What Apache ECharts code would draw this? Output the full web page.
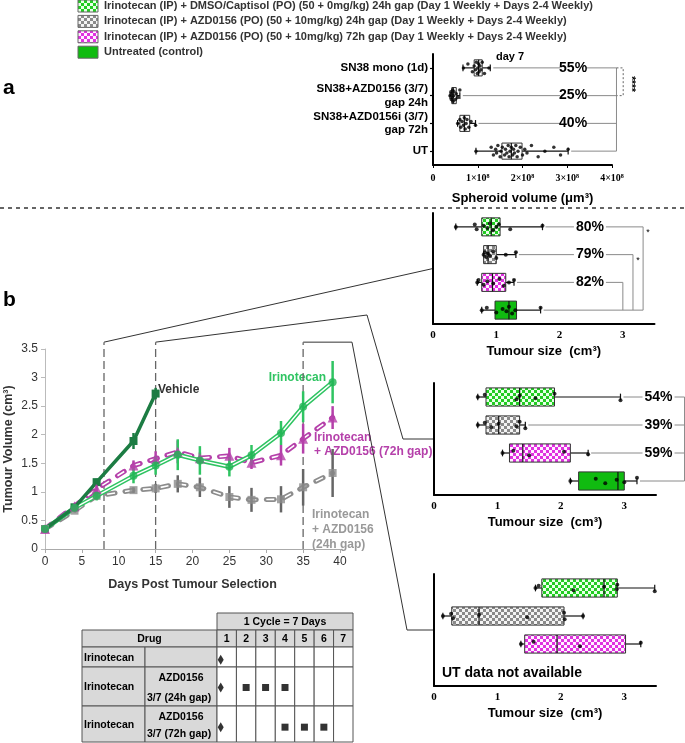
<!DOCTYPE html>
<html><head><meta charset="utf-8">
<script src="https://cdn.jsdelivr.net/npm/echarts@6/dist/echarts.min.js"></script>
<style>html,body{margin:0;padding:0;background:#fff}#c{width:685px;height:743px}</style>
</head><body><div id="c"></div>
<script>
// ---------------- DATA ----------------
const legendLabels = [
  'Irinotecan (IP) + DMSO/Captisol (PO) (50 + 0mg/kg) 24h gap (Day 1 Weekly + Days 2-4 Weekly)',
  'Irinotecan (IP) + AZD0156 (PO) (50 + 10mg/kg) 24h gap (Day 1 Weekly + Days 2-4 Weekly)',
  'Irinotecan (IP) + AZD0156 (PO) (50 + 10mg/kg) 72h gap (Day 1 Weekly + Days 2-4 Weekly)',
  'Untreated (control)'
];

// Panel a: spheroid volume at day 7 (units of 1e8 µm³)
const spheroidCategories = ['SN38 mono (1d)', 'SN38+AZD0156 (3/7)\ngap 24h', 'SN38+AZD0156i (3/7)\ngap 72h', 'UT'];
const spheroidTickLabels = ['0', '1×10⁸', '2×10⁸', '3×10⁸', '4×10⁸'];
const spheroidStats = [ // [min, q1, median, q3, max]
  [0.67, 0.92, 1.02, 1.10, 1.28],
  [0.38, 0.42, 0.45, 0.52, 0.60],
  [0.55, 0.60, 0.70, 0.82, 0.95],
  [0.96, 1.54, 1.75, 1.99, 3.02]
];
const spheroidPoints = [
  [0.68, 0.78, 0.88, 0.92, 0.95, 0.97, 0.99, 1.00, 1.02, 1.03, 1.05, 1.07, 1.10, 1.15, 1.25],
  [0.38, 0.40, 0.41, 0.42, 0.43, 0.44, 0.45, 0.46, 0.47, 0.50, 0.52, 0.55, 0.60],
  [0.55, 0.60, 0.62, 0.65, 0.68, 0.70, 0.72, 0.74, 0.76, 0.80, 0.85, 0.95],
  [0.96, 1.30, 1.35, 1.40, 1.42, 1.45, 1.50, 1.52, 1.55, 1.60, 1.62, 1.65, 1.68, 1.70, 1.72, 1.75, 1.78,
   1.80, 1.82, 1.85, 1.88, 1.90, 1.95, 2.00, 2.05, 2.10, 2.20, 2.35, 2.50, 2.70, 2.85, 3.02]
];
const spheroidPct = ['55%', '25%', '40%', ''];

// Panel b boxes: tumour size (cm³) at day 8, 15, 35
const tumourTickLabels = ['0', '1', '2', '3'];
const day8Stats = [
  [0.36, 0.77, 0.92, 1.06, 1.73],
  [0.80, 0.80, 0.87, 1.00, 1.31],
  [0.70, 0.77, 0.94, 1.15, 1.28],
  [0.77, 0.98, 1.20, 1.32, 1.70]
];
const day8Points = [
  [0.36, 0.66, 0.69, 0.80, 0.86, 0.90, 0.95, 1.00, 1.04, 1.22, 1.73],
  [0.80, 0.82, 0.84, 0.87, 0.90, 0.95, 1.00, 1.15, 1.31],
  [0.70, 0.72, 0.80, 0.86, 0.95, 1.05, 1.12, 1.20, 1.28],
  [0.77, 0.85, 1.00, 1.10, 1.16, 1.20, 1.25, 1.30, 1.70]
];
const day8Pct = ['80%', '79%', '82%', ''];

const day15Stats = [
  [0.69, 0.82, 1.35, 1.90, 2.94],
  [0.69, 0.82, 1.02, 1.35, 1.44],
  [1.08, 1.19, 1.40, 2.15, 2.43],
  [2.15, 2.28, 2.90, 3.00, 3.20]
];
const day15Points = [
  [0.69, 0.80, 1.30, 1.35, 1.60, 1.90, 2.94],
  [0.69, 0.80, 0.90, 1.02, 1.30, 1.35, 1.44],
  [1.08, 1.25, 1.50, 2.05, 2.43],
  [2.15, 2.55, 2.70, 2.88, 3.00, 3.20]
];
const day15Pct = ['54%', '39%', '59%', ''];

const day35Stats = [
  [1.60, 1.70, 2.68, 2.89, 3.48],
  [0.14, 0.28, 0.71, 2.05, 2.35],
  [1.37, 1.43, 1.94, 3.02, 3.26]
];
const day35Points = [
  [1.60, 1.65, 2.20, 2.68, 2.88, 2.89, 3.48],
  [0.14, 0.27, 0.30, 0.71, 1.47, 2.05, 2.06, 2.35],
  [1.37, 1.57, 2.30, 3.26]
];

// Panel b line chart: tumour volume (cm³) vs days
const vehicleDays = [0, 4, 7, 12, 15];
const vehicleMean = [0.35, 0.73, 1.17, 1.89, 2.72];
const vehicleErr  = [0.02, 0.03, 0.06, 0.14, 0.10];
const treatDays = [0, 4, 7, 12, 15, 18, 21, 25, 28, 32, 35, 39];
const irinoMean = [0.35, 0.72, 0.93, 1.28, 1.46, 1.65, 1.55, 1.44, 1.64, 2.03, 2.49, 2.92];
const irinoErr  = [0.02, 0.04, 0.08, 0.13, 0.16, 0.27, 0.25, 0.17, 0.18, 0.21, 0.27, 0.37];
const azd72Mean = [0.35, 0.75, 1.05, 1.46, 1.58, 1.70, 1.59, 1.63, 1.51, 1.64, 1.93, 2.30];
const azd72Err  = [0.02, 0.04, 0.08, 0.09, 0.13, 0.20, 0.10, 0.14, 0.11, 0.18, 0.26, 0.20];
const azd24Mean = [0.35, 0.67, 0.93, 1.03, 1.06, 1.14, 1.08, 0.91, 0.86, 0.87, 1.08, 1.33];
const azd24Err  = [0.02, 0.03, 0.06, 0.05, 0.08, 0.15, 0.17, 0.19, 0.21, 0.23, 0.32, 0.42];
const selectionDays = [8, 15, 35];

// Dosing schedule table
const scheduleDays = ['1', '2', '3', '4', '5', '6', '7'];
const irinotecanDosing = [1];
const azd24Dosing = [2, 3, 4];
const azd72Dosing = [4, 5, 6];

// ---------------- STYLE HELPERS ----------------
function checker(c1, c2, s) {
  const cv = document.createElement('canvas');
  cv.width = cv.height = s * 2;
  const g = cv.getContext('2d');
  g.fillStyle = c2; g.fillRect(0, 0, 2 * s, 2 * s);
  g.fillStyle = c1; g.fillRect(0, 0, s, s); g.fillRect(s, s, s, s);
  return { image: cv, repeat: 'repeat' };
}
const fillGreenChk = checker('#22cc22', '#e8ffe8', 3);
const fillGreyChk = checker('#8a8a8a', '#f4f4f4', 3);
const fillMagChk = checker('#e030e0', '#fff0ff', 3);
const fillSolid = '#10bb10';
const boxFills = [fillGreenChk, fillGreyChk, fillMagChk, fillSolid];

const SANS = 'Liberation Sans, Arial, sans-serif';
const SERIF = 'Liberation Serif, Times New Roman, serif';

const chart = echarts.init(document.getElementById('c'), null, { renderer: 'canvas' });

function boxSeries(xi, yi, stats, fills, pcts, labelX, lineEnds, boxFrac, halfGap) {
  return {
    type: 'custom', xAxisIndex: xi, yAxisIndex: yi, z: 5,
    data: stats.map((s, i) => [i + 1].concat(s)),
    renderItem: function (params, api) {
      const i = params.dataIndex;
      const row = api.value(0);
      const v = [1, 2, 3, 4, 5].map(k => api.value(k));
      const px = v.map(x => api.coord([x, row])[0]);
      const y = api.coord([v[0], row])[1];
      const band = api.size([0, 1])[1];
      const h = band * boxFrac, cap = band * 0.24;
      const ch = [];
      const ls = { stroke: '#111', lineWidth: 1.2 };
      if (lineEnds) {
        const xe = api.coord([lineEnds[i], row])[0];
        if (pcts && pcts[i]) {
          const xl = api.coord([labelX, row])[0];
          ch.push({ type: 'line', shape: { x1: px[4] + 3, y1: y, x2: xl - halfGap, y2: y }, style: { stroke: '#8a8a8a', lineWidth: 1 } });
          ch.push({ type: 'line', shape: { x1: xl + halfGap, y1: y, x2: xe, y2: y }, style: { stroke: '#8a8a8a', lineWidth: 1 } });
          ch.push({ type: 'text', x: xl, y: y, style: { text: pcts[i], fill: '#000', font: 'bold 14px ' + SANS, align: 'center', verticalAlign: 'middle' } });
        } else {
          ch.push({ type: 'line', shape: { x1: px[4] + 3, y1: y, x2: xe, y2: y }, style: { stroke: '#8a8a8a', lineWidth: 1 } });
        }
      }
      ch.push({ type: 'line', shape: { x1: px[0], y1: y, x2: px[1], y2: y }, style: ls });
      ch.push({ type: 'line', shape: { x1: px[3], y1: y, x2: px[4], y2: y }, style: ls });
      ch.push({ type: 'line', shape: { x1: px[0], y1: y - cap / 2, x2: px[0], y2: y + cap / 2 }, style: ls });
      ch.push({ type: 'line', shape: { x1: px[4], y1: y - cap / 2, x2: px[4], y2: y + cap / 2 }, style: ls });
      ch.push({ type: 'rect', shape: { x: px[1], y: y - h / 2, width: px[3] - px[1], height: h }, style: { fill: fills ? fills[i] : '#fff', stroke: '#333', lineWidth: 1 } });
      ch.push({ type: 'line', shape: { x1: px[2], y1: y - h / 2, x2: px[2], y2: y + h / 2 }, style: ls });
      return { type: 'group', children: ch };
    }
  };
}
function pointSeries(xi, yi, points, size) {
  const jit = [0, -0.14, 0.14, -0.07, 0.07, -0.2, 0.2];
  const data = [];
  points.forEach((arr, r) => arr.forEach((val, k) => data.push([val, r + 1 + jit[k % jit.length] * (size < 4 ? 1 : 0.6)])));
  return { type: 'scatter', xAxisIndex: xi, yAxisIndex: yi, z: 8, symbol: 'circle', symbolSize: size, itemStyle: { color: '#000' }, data: data, silent: true };
}
function polySeries(xi, yi, polys, dashed) {
  return {
    type: 'custom', xAxisIndex: xi, yAxisIndex: yi, z: 4,
    data: polys.map((p, i) => [i]),
    renderItem: function (params, api) {
      const pts = polys[params.dataIndex].map(p => api.coord(p));
      return { type: 'polyline', shape: { points: pts }, style: { stroke: dashed ? '#666' : '#8a8a8a', lineWidth: 1, fill: null, lineDash: dashed ? [2, 2] : null } };
    }
  };
}
function errSeries(days, mean, err, color, w) {
  return {
    type: 'custom', xAxisIndex: 4, yAxisIndex: 8, z: 6,
    data: days.map((d, i) => [d, mean[i] - err[i], mean[i] + err[i]]),
    renderItem: function (params, api) {
      const a = api.coord([api.value(0), api.value(1)]);
      const b = api.coord([api.value(0), api.value(2)]);
      return { type: 'line', shape: { x1: a[0], y1: a[1], x2: b[0], y2: b[1] }, style: { stroke: color, lineWidth: w } };
    }
  };
}
const pairs = (d, m) => d.map((x, i) => [x, m[i]]);

function boxGrid(left, top, width, height) { return { left, top, width, height, containLabel: false }; }
function catAxis(gi, labels, showLabels) {
  return {
    type: 'category', gridIndex: gi, data: labels, inverse: true,
    axisLine: { show: true, lineStyle: { color: '#000', width: 2 } },
    axisTick: { show: showLabels, alignWithLabel: true, length: 3, lineStyle: { color: '#000', width: 1.2 } },
    axisLabel: { show: showLabels, color: '#000', fontFamily: SANS, fontWeight: 'bold', fontSize: 11.5, lineHeight: 13.5, margin: 5, align: 'right' }
  };
}
function valAxisHidden(gi) { return { type: 'value', gridIndex: gi, show: false, min: 0.5, max: 4.5, inverse: true }; }
function tumourXAxis(gi) {
  return {
    type: 'value', gridIndex: gi, min: 0, max: 3.5, interval: 1,
    name: 'Tumour size  (cm³)', nameLocation: 'middle', nameGap: 21,
    nameTextStyle: { color: '#000', fontFamily: SANS, fontWeight: 'bold', fontSize: 13 },
    axisLine: { lineStyle: { color: '#000', width: 2 } },
    axisTick: { show: false },
    splitLine: { show: false },
    axisLabel: { color: '#000', fontFamily: SERIF, fontWeight: 'bold', fontSize: 11, margin: 6, showMaxLabel: false,
      formatter: (v) => (Number.isInteger(v) ? tumourTickLabels[v] : '') }
  };
}

const aLabelX = 3.13, aLineEnd = 4.1;
const b1LabelX = 2.48, b1LineEnds = [3.32, 3.16, 3.0, 3.32];
const b2LabelX = 3.54, b2LineEnd = 3.95;

const option = {
  animation: false,
  backgroundColor: '#fff',
  grid: [
    boxGrid(433, 54, 179, 111),
    boxGrid(433, 213, 221.5, 111),
    boxGrid(434, 383, 222, 112),
    boxGrid(434, 574, 222, 112),
    { left: 45, top: 349, width: 295, height: 200 },
    { left: 217, top: 647, width: 136, height: 95 }
  ],
  xAxis: [
    {
      type: 'value', gridIndex: 0, min: 0, max: 4, interval: 1,
      name: 'Spheroid volume (μm³)', nameLocation: 'middle', nameGap: 27,
      nameTextStyle: { color: '#000', fontFamily: SANS, fontWeight: 'bold', fontSize: 13 },
      axisLine: { lineStyle: { color: '#000', width: 2 } },
      axisTick: { show: true, length: 3, lineStyle: { color: '#000' } },
      splitLine: { show: false },
      axisLabel: { color: '#000', fontFamily: SERIF, fontWeight: 'bold', fontSize: 10, margin: 8, formatter: (v, i) => spheroidTickLabels[i] }
    },
    tumourXAxis(1), tumourXAxis(2), tumourXAxis(3),
    {
      type: 'value', gridIndex: 4, min: 0, max: 40, interval: 5,
      name: 'Days Post Tumour Selection', nameLocation: 'middle', nameGap: 29,
      nameTextStyle: { color: '#333', fontFamily: SANS, fontWeight: 'bold', fontSize: 12.5 },
      axisLine: { lineStyle: { color: '#aaa', width: 1 } },
      axisTick: { show: true, length: 4, lineStyle: { color: '#aaa' } },
      splitLine: { show: false },
      axisLabel: { color: '#333', fontFamily: SANS, fontSize: 12, margin: 7 }
    },
    { type: 'value', gridIndex: 5, min: 0.5, max: 7.5, show: false }
  ],
  yAxis: [
    catAxis(0, spheroidCategories, true), valAxisHidden(0),
    catAxis(1, ['', '', '', ''], false), valAxisHidden(1),
    catAxis(2, ['', '', '', ''], false), valAxisHidden(2),
    catAxis(3, ['', '', '', ''], false), valAxisHidden(3),
    {
      type: 'value', gridIndex: 4, min: 0, max: 3.5, interval: 0.5,
      name: 'Tumour Volume (cm³)', nameLocation: 'middle', nameGap: 30,
      nameTextStyle: { color: '#333', fontFamily: SANS, fontWeight: 'bold', fontSize: 12.5 },
      axisLine: { show: true, lineStyle: { color: '#bbb', width: 1 } },
      axisTick: { show: true, length: 4, lineStyle: { color: '#bbb' } },
      splitLine: { show: false },
      axisLabel: { color: '#333', fontFamily: SANS, fontSize: 12, margin: 7 }
    },
    { type: 'category', gridIndex: 5, data: ['Irinotecan', 'AZD0156 24h', 'AZD0156 72h'], inverse: true, show: false }
  ],
  series: [
    polySeries(0, 1, [[[aLineEnd, 1], [aLineEnd, 4]]], false),
    polySeries(0, 1, [[[aLineEnd, 1], [4.25, 1], [4.25, 2], [aLineEnd, 2]]], true),
    boxSeries(0, 1, spheroidStats, null, spheroidPct, aLabelX, [aLineEnd, aLineEnd, aLineEnd, aLineEnd], 0.58, 13),
    pointSeries(0, 1, spheroidPoints, 3.5),
    polySeries(1, 3, [[[b1LineEnds[0], 1], [b1LineEnds[0], 4]], [[b1LineEnds[1], 2], [b1LineEnds[1], 4]], [[b1LineEnds[2], 3], [b1LineEnds[2], 4]]], false),
    boxSeries(1, 3, day8Stats, boxFills, day8Pct, b1LabelX, b1LineEnds, 0.65, 16),
    pointSeries(1, 3, day8Points, 4),
    polySeries(2, 5, [[[b2LineEnd, 1], [b2LineEnd, 4]]], false),
    boxSeries(2, 5, day15Stats, boxFills, day15Pct, b2LabelX, [b2LineEnd, b2LineEnd, b2LineEnd, b2LineEnd], 0.65, 16),
    pointSeries(2, 5, day15Points, 4),
    boxSeries(3, 7, day35Stats, boxFills, null, 0, null, 0.65, 16),
    pointSeries(3, 7, day35Points, 4),
    {
      type: 'custom', xAxisIndex: 4, yAxisIndex: 8, z: 2, clip: false,
      data: selectionDays.map(d => [d, 0, 3.62]),
      renderItem: function (params, api) {
        const a = api.coord([api.value(0), api.value(1)]);
        const b = api.coord([api.value(0), api.value(2)]);
        return { type: 'line', shape: { x1: a[0], y1: a[1], x2: b[0], y2: b[1] }, style: { stroke: '#666', lineWidth: 1.3, lineDash: [8, 4] } };
      }
    },
    { type: 'line', xAxisIndex: 4, yAxisIndex: 8, z: 3, data: pairs(treatDays, azd24Mean), symbol: 'none', lineStyle: { color: '#8c8c8c', width: 5, type: [8, 10], cap: 'round' } },
    { type: 'line', xAxisIndex: 4, yAxisIndex: 8, z: 3, data: pairs(treatDays, azd24Mean), symbol: 'none', lineStyle: { color: '#fff', width: 1.6, type: [8, 10] } },
    errSeries(treatDays, azd24Mean, azd24Err, '#666', 2.5),
    { type: 'scatter', xAxisIndex: 4, yAxisIndex: 8, z: 7, data: pairs(treatDays, azd24Mean), symbol: 'rect', symbolSize: 8, itemStyle: { color: '#8c8c8c' } },
    { type: 'line', xAxisIndex: 4, yAxisIndex: 8, z: 3, data: pairs(treatDays, azd72Mean), symbol: 'none', lineStyle: { color: '#b540aa', width: 5, type: [8, 10], cap: 'round' } },
    { type: 'line', xAxisIndex: 4, yAxisIndex: 8, z: 3, data: pairs(treatDays, azd72Mean), symbol: 'none', lineStyle: { color: '#fff', width: 1.6, type: [8, 10] } },
    errSeries(treatDays, azd72Mean, azd72Err, '#b540aa', 2.5),
    { type: 'scatter', xAxisIndex: 4, yAxisIndex: 8, z: 7, data: pairs(treatDays, azd72Mean), symbol: 'triangle', symbolSize: 10, itemStyle: { color: '#b540aa' } },
    { type: 'line', xAxisIndex: 4, yAxisIndex: 8, z: 4, data: pairs(treatDays, irinoMean), symbol: 'none', lineStyle: { color: '#2fc462', width: 4.5 } },
    { type: 'line', xAxisIndex: 4, yAxisIndex: 8, z: 4, data: pairs(treatDays, irinoMean), symbol: 'none', lineStyle: { color: '#fff', width: 1.4 } },
    errSeries(treatDays, irinoMean, irinoErr, '#2fc462', 2.5),
    { type: 'scatter', xAxisIndex: 4, yAxisIndex: 8, z: 7, data: pairs(treatDays, irinoMean), symbol: 'circle', symbolSize: 8, itemStyle: { color: '#20b454' } },
    { type: 'line', xAxisIndex: 4, yAxisIndex: 8, z: 5, data: pairs(vehicleDays, vehicleMean), symbol: 'rect', symbolSize: 8, itemStyle: { color: '#1c7c43' }, lineStyle: { color: '#1c7c43', width: 3.5 } },
    errSeries(vehicleDays, vehicleMean, vehicleErr, '#1c7c43', 2.5),
    { type: 'scatter', xAxisIndex: 5, yAxisIndex: 9, z: 10, symbol: 'diamond', symbolSize: [6, 10], itemStyle: { color: '#000' },
      data: [0, 1, 2].map((r, i) => ({ value: [irinotecanDosing[0], r], symbolOffset: [-6, [-3, -7, 1][i]] })) },
    { type: 'scatter', xAxisIndex: 5, yAxisIndex: 9, z: 10, symbol: 'rect', symbolSize: 7, symbolOffset: [0, -7], itemStyle: { color: '#000' },
      data: azd24Dosing.map(d => [d, 1]) },
    { type: 'scatter', xAxisIndex: 5, yAxisIndex: 9, z: 10, symbol: 'rect', symbolSize: 7, symbolOffset: [0, 1], itemStyle: { color: '#000' },
      data: azd72Dosing.map(d => [d, 2]) }
  ]
};
chart.setOption(option);

// ---------------- GRAPHICS ----------------
const g = [];
legendLabels.forEach((t, i) => {
  const yc = 6 + i * 15.4;
  g.push({ type: 'rect', shape: { x: 78, y: yc - 6, width: 20, height: 12 }, style: { fill: boxFills[i], stroke: '#666', lineWidth: 1 } });
  g.push({ type: 'text', x: 104, y: yc, style: { text: t, fill: '#333', font: 'bold 11px ' + SANS, verticalAlign: 'middle' } });
});
g.push({ type: 'text', x: 3, y: 88, style: { text: 'a', fill: '#000', font: 'bold 21px ' + SANS, verticalAlign: 'middle' } });
g.push({ type: 'text', x: 3, y: 300, style: { text: 'b', fill: '#000', font: 'bold 21px ' + SANS, verticalAlign: 'middle' } });
g.push({ type: 'line', shape: { x1: 0, y1: 208, x2: 685, y2: 208 }, style: { stroke: '#333', lineWidth: 1.5, lineDash: [4, 4] } });
g.push({ type: 'text', x: 510, y: 57, style: { text: 'day 7', fill: '#000', font: 'bold 11px ' + SANS, align: 'center', verticalAlign: 'middle' } });
g.push({ type: 'text', x: 631, y: 84, rotation: -Math.PI / 2, style: { text: '****', fill: '#000', font: 'bold 10px ' + SANS, align: 'center', verticalAlign: 'middle' } });
g.push({ type: 'text', x: 648, y: 233, style: { text: '*', fill: '#000', font: '9px ' + SANS, align: 'center', verticalAlign: 'middle' } });
g.push({ type: 'text', x: 638, y: 261, style: { text: '*', fill: '#000', font: '9px ' + SANS, align: 'center', verticalAlign: 'middle' } });
g.push({ type: 'text', x: 442, y: 673, style: { text: 'UT data not available', fill: '#000', font: 'bold 14px ' + SANS, verticalAlign: 'middle' } });
g.push({ type: 'text', x: 158, y: 390, style: { text: 'Vehicle', fill: '#333', font: 'bold 12px ' + SANS, verticalAlign: 'middle' } });
g.push({ type: 'text', x: 326, y: 378, style: { text: 'Irinotecan', fill: '#2fc462', font: 'bold 12px ' + SANS, align: 'right', verticalAlign: 'middle' } });
g.push({ type: 'text', x: 314, y: 445, style: { text: 'Irinotecan\n+ AZD0156 (72h gap)', fill: '#b540aa', font: 'bold 12px ' + SANS, verticalAlign: 'middle', lineHeight: 14 } });
g.push({ type: 'text', x: 312, y: 530, style: { text: 'Irinotecan\n+ AZD0156\n(24h gap)', fill: '#999', font: 'bold 12px ' + SANS, verticalAlign: 'middle', lineHeight: 15 } });

const top8 = chart.convertToPixel({ xAxisIndex: 4, yAxisIndex: 8 }, [selectionDays[0], 3.62]);
const top15 = chart.convertToPixel({ xAxisIndex: 4, yAxisIndex: 8 }, [selectionDays[1], 3.62]);
const top35 = chart.convertToPixel({ xAxisIndex: 4, yAxisIndex: 8 }, [selectionDays[2], 3.62]);
const mid1 = chart.convertToPixel({ xAxisIndex: 1, yAxisIndex: 3 }, [0, 2.5]);
const mid2 = chart.convertToPixel({ xAxisIndex: 2, yAxisIndex: 5 }, [0, 2.5]);
const mid3 = chart.convertToPixel({ xAxisIndex: 3, yAxisIndex: 7 }, [0, 2.5]);
const cs = { stroke: '#333', lineWidth: 1, fill: null };
g.push({ type: 'polyline', shape: { points: [top8, mid1] }, style: cs });
g.push({ type: 'polyline', shape: { points: [top15, [367, 315], [mid2[0] - 31, mid2[1]], mid2] }, style: cs });
g.push({ type: 'polyline', shape: { points: [top35, [352, top35[1]], [mid3[0] - 27, mid3[1]], mid3] }, style: cs });

const T = { x0: 82, xd: 145, xDays: 217, x1: 353, yH1: 613, yH2: 630, yR1: 647, yR2: 667, yR3: 706, yEnd: 742 };
const colW = (T.x1 - T.xDays) / scheduleDays.length;
const cellStroke = { stroke: '#555', lineWidth: 1 };
const cell = (x, y, w, h, fill) => g.push({ type: 'rect', shape: { x, y, width: w, height: h }, style: Object.assign({ fill }, cellStroke) });
const txt = (x, y, t, align) => g.push({ type: 'text', x, y, style: { text: t, fill: '#000', font: 'bold 10.5px ' + SANS, align: align || 'center', verticalAlign: 'middle' } });
const grey = '#d9d9d9';
cell(T.xDays, T.yH1, T.x1 - T.xDays, T.yH2 - T.yH1, grey);
txt((T.xDays + T.x1) / 2, (T.yH1 + T.yH2) / 2 + 1, '1 Cycle = 7 Days');
cell(T.x0, T.yH2, T.xDays - T.x0, T.yR1 - T.yH2, grey);
txt((T.x0 + T.xDays) / 2, (T.yH2 + T.yR1) / 2 + 1, 'Drug');
scheduleDays.forEach((d, i) => {
  cell(T.xDays + i * colW, T.yH2, colW, T.yR1 - T.yH2, grey);
  txt(T.xDays + (i + 0.5) * colW, (T.yH2 + T.yR1) / 2 + 1, d);
});
const rowsY = [[T.yR1, T.yR2], [T.yR2, T.yR3], [T.yR3, T.yEnd]];
const rowText = [['Irinotecan', ''], ['Irinotecan', 'AZD0156|3/7 (24h gap)'], ['Irinotecan', 'AZD0156|3/7 (72h gap)']];
rowsY.forEach(([a, b], r) => {
  cell(T.x0, a, T.xd - T.x0, b - a, grey);
  cell(T.xd, a, T.xDays - T.xd, b - a, grey);
  scheduleDays.forEach((d, i) => cell(T.xDays + i * colW, a, colW, b - a, '#fff'));
  txt(T.x0 + 2, (a + b) / 2 + 1, rowText[r][0], 'left');
  if (rowText[r][1]) {
    const [l1, l2] = rowText[r][1].split('|');
    txt((T.xd + T.xDays) / 2, a + 11, l1);
    txt(T.xd + 2, b - 8, l2, 'left');
  }
});
chart.setOption({ graphic: { elements: g } });
</script>
</body></html>
